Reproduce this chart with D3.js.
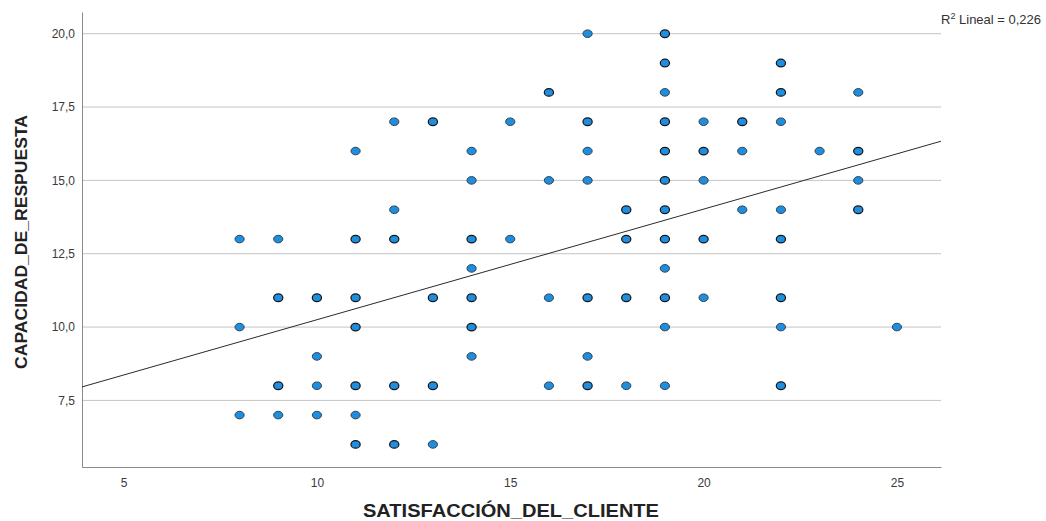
<html>
<head>
<meta charset="utf-8">
<script src="https://d3js.org/d3.v7.min.js"></script>
<style>
  body { margin: 0; background: #fff; }
  text { font-family: "Liberation Sans", Arial, sans-serif; }
</style>
</head>
<body>
<div id="my_dataviz"></div>
<script>
// data
const satisfaccion = [
  8, 8, 8,
  9, 9, 9, 9,
  10, 10, 10, 10,
  11, 11, 11, 11, 11, 11, 11,
  12, 12, 12, 12, 12,
  13, 13, 13, 13,
  14, 14, 14, 14, 14, 14, 14,
  15, 15,
  16, 16, 16, 16,
  17, 17, 17, 17, 17, 17, 17,
  18, 18, 18, 18,
  19, 19, 19, 19, 19, 19, 19, 19, 19, 19, 19, 19,
  20, 20, 20, 20, 20,
  21, 21, 21,
  22, 22, 22, 22, 22, 22, 22, 22,
  23,
  24, 24, 24, 24,
  25
];
const capacidad = [
  13, 10, 7,
  13, 11, 8, 7,
  11, 9, 8, 7,
  16, 13, 11, 10, 8, 7, 6,
  17, 14, 13, 8, 6,
  17, 11, 8, 6,
  16, 15, 13, 12, 11, 10, 9,
  17, 13,
  18, 15, 11, 8,
  20, 17, 16, 15, 11, 9, 8,
  14, 13, 11, 8,
  20, 19, 18, 17, 16, 15, 14, 13, 12, 11, 10, 8,
  17, 16, 15, 13, 11,
  17, 16, 14,
  19, 18, 17, 14, 13, 11, 10, 8,
  16,
  18, 16, 15, 14,
  10
];
// cases drawn on top of each other (darker outline in the picture)
const overlap = [
  1, 1, 1,
  1, 2, 2, 1,
  2, 1, 1, 1,
  1, 2, 2, 2, 2, 1, 2,
  1, 1, 2, 2, 2,
  2, 2, 2, 1,
  1, 1, 2, 1, 2, 2, 1,
  1, 1,
  2, 1, 1, 1,
  1, 2, 1, 1, 2, 1, 2,
  2, 2, 2, 1,
  2, 2, 1, 2, 2, 2, 2, 2, 1, 2, 1, 1,
  1, 2, 1, 2, 1,
  2, 1, 1,
  2, 2, 1, 1, 2, 2, 1, 2,
  1,
  1, 2, 1, 2,
  1
];
const xTicks = [5, 10, 15, 20, 25];
const yTicks = [7.5, 10, 12.5, 15, 17.5, 20];
const fitIntercept = 6.48;
const fitSlope = 0.377;
const r2Label = "0,226";

const data = satisfaccion.map((d, i) => ({x: d, y: capacidad[i], n: overlap[i]}));

const W = 1046, H = 521;
const margin = {top: 12, right: 105, bottom: 54, left: 82};
const width = W - margin.left - margin.right,
      height = H - margin.top - margin.bottom;

const svg = d3.select("#my_dataviz")
  .append("svg")
  .attr("width", W)
  .attr("height", H);

const g = svg.append("g")
  .attr("transform", "translate(" + margin.left + "," + margin.top + ")");

const x = d3.scaleLinear().domain([3.925, 26.14]).range([0, width]);
const y = d3.scaleLinear().domain([5.23, 20.74]).range([height, 0]);

const comma = d => d3.format(".1f")(d).replace(".", ",");

// grid lines
g.append("g")
  .selectAll("line")
  .data(yTicks)
  .enter()
  .append("line")
  .attr("x1", 0)
  .attr("x2", width)
  .attr("y1", d => y(d))
  .attr("y2", d => y(d))
  .style("stroke", "#c4c4c4")
  .style("stroke-width", 1);

// Y axis
const yAxis = g.append("g")
  .call(d3.axisLeft(y).tickValues(yTicks).tickSize(0).tickPadding(7).tickFormat(comma));
yAxis.select(".domain").style("stroke", "#8a8a8a");
yAxis.selectAll("text").style("font-size", "12px").style("fill", "#3a3a3a").style("font-family", "Liberation Sans, Arial, sans-serif");

// X axis
const xAxis = g.append("g")
  .attr("transform", "translate(0," + height + ")")
  .call(d3.axisBottom(x).tickValues(xTicks).tickSize(0).tickPadding(11).tickFormat(d3.format("d")));
xAxis.select(".domain").style("stroke", "#8a8a8a");
xAxis.selectAll("text").style("font-size", "12px").style("fill", "#3a3a3a").style("font-family", "Liberation Sans, Arial, sans-serif");

// fit line
const x0 = x.domain()[0], x1 = x.domain()[1];
g.append("line")
  .attr("x1", x(x0))
  .attr("y1", y(fitIntercept + fitSlope * x0))
  .attr("x2", x(x1))
  .attr("y2", y(fitIntercept + fitSlope * x1))
  .style("stroke", "#2a2a2a")
  .style("stroke-width", 1);

// dots
g.append("g")
  .selectAll("ellipse")
  .data(data)
  .enter()
  .append("ellipse")
  .attr("cx", d => x(d.x))
  .attr("cy", d => y(d.y))
  .attr("rx", 4.6)
  .attr("ry", 3.8)
  .style("fill", "#1d8ee0")
  .style("stroke", d => d.n > 1 ? "#151515" : "#34414b")
  .style("stroke-width", d => d.n > 1 ? 1.25 : 1);

// axis titles
svg.append("text")
  .attr("x", 511)
  .attr("y", 517)
  .attr("text-anchor", "middle")
  .attr("textLength", 296)
  .attr("lengthAdjust", "spacingAndGlyphs")
  .style("font-size", "18px")
  .style("font-weight", "bold")
  .style("fill", "#222")
  .text("SATISFACCIÓN_DEL_CLIENTE");

svg.append("text")
  .attr("transform", "translate(27,242) rotate(-90)")
  .attr("text-anchor", "middle")
  .attr("textLength", 254)
  .attr("lengthAdjust", "spacingAndGlyphs")
  .style("font-size", "16px")
  .style("font-weight", "bold")
  .style("fill", "#222")
  .text("CAPACIDAD_DE_RESPUESTA");

// R2 label
const r2 = svg.append("text")
  .attr("x", 941)
  .attr("y", 24)
  .style("font-size", "13px")
  .style("fill", "#333");
r2.append("tspan").text("R");
r2.append("tspan").attr("dy", -5).style("font-size", "9px").text("2");
r2.append("tspan").attr("dy", 5).text(" Lineal = " + r2Label);
</script>
</body>
</html>
